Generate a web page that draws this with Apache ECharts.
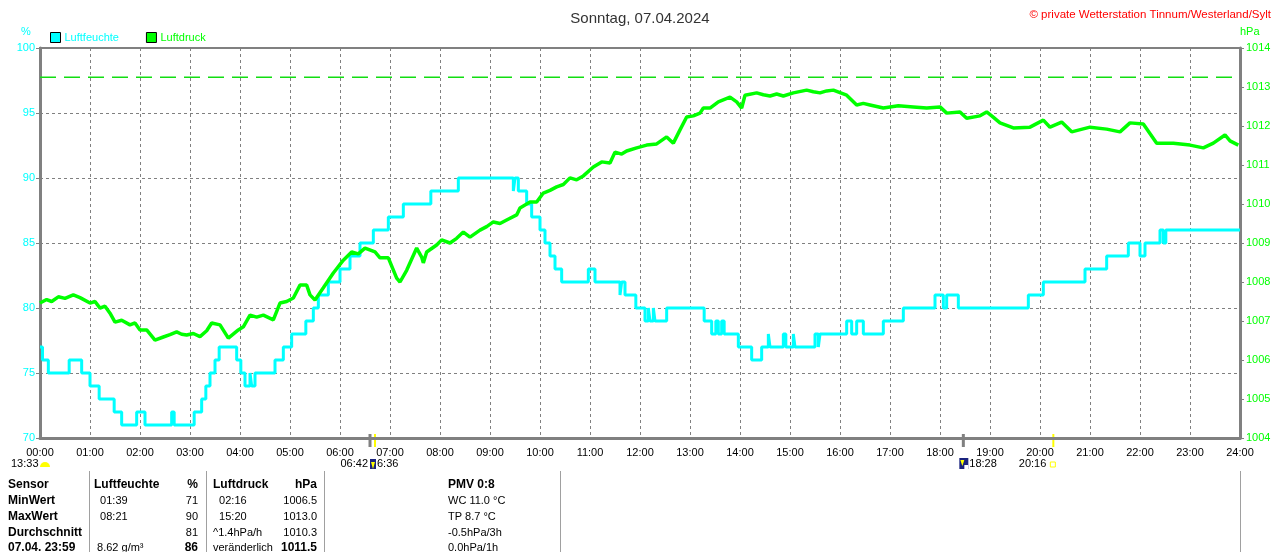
<!DOCTYPE html>
<html>
<head>
<meta charset="utf-8">
<script src="https://cdn.jsdelivr.net/npm/echarts@6/dist/echarts.min.js"></script>
<style>
html, body { margin: 0; padding: 0; background: #fff; }
#container { width: 1280px; height: 552px; }
</style>
</head>
<body>
<div id="container"></div>
<script>
let chart = echarts.init(document.getElementById('container'));

const FONT = '"Liberation Sans", Arial, sans-serif';

// x axis tick labels, one per hour
const xLabels = ['00:00', '01:00', '02:00', '03:00', '04:00', '05:00', '06:00', '07:00', '08:00',
    '09:00', '10:00', '11:00', '12:00', '13:00', '14:00', '15:00', '16:00', '17:00', '18:00',
    '19:00', '20:00', '21:00', '22:00', '23:00', '24:00'];

// Luftfeuchte [minute of day, %] - value holds until next entry
const humidity = [[0, 77], [3, 76], [10, 75], [35, 76], [50, 75], [60, 74], [71, 73], [89, 72], [98, 71],
    [116, 72], [126, 71], [158, 72], [161, 71], [185, 72], [194, 73], [199, 74], [204, 75], [210, 76],
    [215, 77], [236, 76], [241, 75], [246, 74], [252, 75], [254, 74], [258, 75], [282, 76], [292, 77],
    [302, 78], [319, 79], [328, 80], [334, 81], [346, 82], [360, 83], [372, 84], [384, 85], [400, 86],
    [418, 87], [436, 88], [469, 89], [502, 90], [568, 89], [570, 90], [574, 89], [584, 88], [590, 87],
    [600, 86], [606, 85], [612, 84], [618, 83], [626, 82], [658, 83], [666, 82], [696, 81], [698, 82],
    [702, 81], [715, 80], [726, 79], [730, 80], [732, 79], [736, 80], [738, 79], [752, 80], [797, 79],
    [806, 78], [811, 79], [814, 78], [818, 79], [821, 78], [838, 77], [854, 76], [866, 77], [874, 78],
    [876, 77], [892, 78], [895, 77], [904, 78], [906, 77], [930, 78], [934, 77], [936, 78], [968, 79],
    [974, 78], [980, 79], [988, 78], [1012, 79], [1036, 80], [1074, 81], [1084, 80], [1088, 81],
    [1102, 80], [1186, 81], [1204, 82], [1254, 83], [1280, 84], [1306, 85], [1320, 84], [1326, 85],
    [1344, 86], [1348, 85], [1351, 86], [1440, 86]];

// Luftdruck [minute of day, hPa]
const pressure = [[0, 1007.46], [8, 1007.55], [14, 1007.5], [22, 1007.62], [30, 1007.58], [40, 1007.67],
    [48, 1007.6], [60, 1007.46], [66, 1007.5], [72, 1007.33], [78, 1007.38], [84, 1007.2],
    [90, 1006.97], [98, 1007.02], [108, 1006.9], [114, 1006.95], [120, 1006.77], [128, 1006.77], [138, 1006.51], [148, 1006.59],
    [156, 1006.65], [164, 1006.72], [170, 1006.66], [176, 1006.64], [184, 1006.68], [192, 1006.6], [200, 1006.75], [206, 1006.95], [216, 1006.9], [226, 1006.56],
    [238, 1006.77], [244, 1006.85], [252, 1007.15], [260, 1007.1], [268, 1007.15], [280, 1007.03], [288, 1007.46],
    [296, 1007.5], [304, 1007.59], [312, 1007.92], [320, 1007.92], [324, 1007.67], [330, 1007.54], [340, 1007.85],
    [352, 1008.23], [364, 1008.56], [374, 1008.77], [382, 1008.72], [390, 1008.87], [402, 1008.77], [408, 1008.62],
    [418, 1008.62], [428, 1008.1], [432, 1008.0], [440, 1008.3], [452, 1008.87], [458, 1008.64],
    [460, 1008.49], [464, 1008.77], [476, 1008.95], [482, 1009.08], [492, 1009.0], [500, 1009.12], [508, 1009.28],
    [516, 1009.15], [528, 1009.33], [536, 1009.42], [544, 1009.54], [552, 1009.5], [560, 1009.59], [572, 1009.72], [576, 1009.9],
    [588, 1010.05], [596, 1010.05], [604, 1010.28], [612, 1010.35], [620, 1010.44], [628, 1010.5], [636, 1010.67], [644, 1010.62], [652, 1010.72],
    [664, 1010.95], [674, 1011.08], [684, 1011.05], [690, 1011.33], [698, 1011.28], [704, 1011.36], [716, 1011.44],
    [728, 1011.51], [740, 1011.54], [752, 1011.72], [760, 1011.56], [768, 1011.9], [776, 1012.23],
    [784, 1012.26], [792, 1012.33], [796, 1012.46], [804, 1012.46], [814, 1012.62], [828, 1012.74],
    [836, 1012.62], [842, 1012.46], [846, 1012.79], [860, 1012.85], [868, 1012.8], [876, 1012.77], [884, 1012.82], [892, 1012.77],
    [904, 1012.85], [920, 1012.92], [928, 1012.88], [936, 1012.85], [944, 1012.9], [952, 1012.92], [968, 1012.79], [980, 1012.54],
    [988, 1012.58], [996, 1012.54], [1012, 1012.46], [1030, 1012.52], [1048, 1012.49], [1064, 1012.46], [1080, 1012.49], [1088, 1012.33], [1104, 1012.36],
    [1112, 1012.2], [1128, 1012.26], [1136, 1012.36], [1142, 1012.26], [1152, 1012.08], [1168, 1011.95],
    [1188, 1011.97], [1204, 1012.15], [1212, 1011.97], [1226, 1012.1], [1238, 1011.85], [1260, 1011.97],
    [1280, 1011.92], [1296, 1011.85], [1308, 1012.08], [1324, 1012.05], [1340, 1011.56], [1360, 1011.56],
    [1380, 1011.51], [1396, 1011.44], [1408, 1011.56], [1422, 1011.77], [1428, 1011.62], [1438, 1011.51]];

const normalPressure = 1013.25;

// sun / moon times shown under the axis
const sunRise = '06:36';
const sunSet = '18:28';
const moonRise = '06:42';
const moonSet = '20:16';
const moonPrev = '13:33';

// summary table below the chart
const tableRows = [
    ['Sensor', 'Luftfeuchte', '%', 'Luftdruck', 'hPa', 'PMV 0:8'],
    ['MinWert', '  01:39', '71', '  02:16', '1006.5', 'WC 11.0 °C'],
    ['MaxWert', '  08:21', '90', '  15:20', '1013.0', 'TP 8.7 °C'],
    ['Durchschnitt', '', '81', '^1.4hPa/h', '1010.3', '-0.5hPa/3h'],
    ['07.04. 23:59', ' 8.62 g/m³', '86', 'veränderlich', '1011.5', '0.0hPa/1h'],
];

function toMin(t) {
    let p = t.split(':');
    return parseInt(p[0]) * 60 + parseInt(p[1]);
}

var option = {
    animation: false,
    textStyle: { fontFamily: FONT },
    title: [{
        text: 'Sonntag, 07.04.2024',
        left: 'center',
        top: 6,
        textStyle: { fontSize: 15, fontWeight: 'normal', color: '#333', fontFamily: FONT },
    }, {
        text: '© private Wetterstation Tinnum/Westerland/Sylt',
        right: 4,
        top: 4,
        textStyle: { fontSize: 11.5, fontWeight: 'normal', color: '#ff0000', fontFamily: FONT },
    }],
    legend: {
        left: 50,
        top: 32,
        padding: 0,
        itemWidth: 10,
        itemHeight: 10,
        itemGap: 27,
        icon: 'rect',
        itemStyle: { borderColor: '#000', borderWidth: 1 },
        textStyle: { fontSize: 11, fontFamily: FONT, padding: [0, 0, 0, -1] },
        data: [
            { name: 'Luftfeuchte', textStyle: { color: '#00ffff' } },
            { name: 'Luftdruck', textStyle: { color: '#00ff00' } },
        ],
    },
    grid: {
        left: 40,
        right: 40,
        top: 48,
        bottom: 114,
        show: true,
        borderColor: '#808080',
        borderWidth: 2,
    },
    xAxis: {
        type: 'value',
        min: 0,
        max: 1440,
        interval: 60,
        axisLine: { lineStyle: { color: '#808080', width: 3 } },
        axisTick: { show: false },
        axisLabel: {
            color: '#000',
            fontSize: 11,
            margin: 9,
            showMinLabel: true,
            showMaxLabel: true,
            formatter: v => xLabels[Math.round(v / 60)],
        },
        splitLine: { show: true, lineStyle: { color: '#808080', type: [3, 3], width: 1 } },
    },
    yAxis: [{
        type: 'value',
        position: 'left',
        min: 70,
        max: 100,
        interval: 5,
        axisLine: { show: true, lineStyle: { color: '#808080', width: 3 } },
        axisTick: { show: true, length: 4, lineStyle: { color: '#808080' } },
        axisLabel: { color: '#00ffff', fontSize: 11, margin: 5 },
        splitLine: { show: true, lineStyle: { color: '#808080', type: [3, 3], width: 1 } },
    }, {
        type: 'value',
        position: 'right',
        min: 1004,
        max: 1014,
        interval: 1,
        axisLine: { show: true, lineStyle: { color: '#808080', width: 3 } },
        axisTick: { show: true, length: 4, lineStyle: { color: '#808080' } },
        axisLabel: { color: '#00ff00', fontSize: 11, margin: 6, formatter: v => String(v) },
        splitLine: { show: false },
    }],
    series: [{
        name: 'Luftfeuchte',
        type: 'line',
        step: 'end',
        yAxisIndex: 0,
        showSymbol: false,
        data: humidity,
        itemStyle: { color: '#00ffff' },
        lineStyle: { color: '#00ffff', width: 3 },
    }, {
        name: 'Luftdruck',
        type: 'line',
        yAxisIndex: 1,
        showSymbol: false,
        data: pressure,
        itemStyle: { color: '#00ff00' },
        lineStyle: { color: '#00ff00', width: 3.5 },
    }, {
        // Normaldruck reference line
        name: 'Normaldruck',
        type: 'line',
        yAxisIndex: 1,
        showSymbol: false,
        silent: true,
        data: [[0, normalPressure], [1440, normalPressure]],
        itemStyle: { color: '#11dd11' },
        lineStyle: { color: '#11dd11', type: [16, 8], width: 1.5 },
    }],
};

chart.setOption(option);

// extra marks under the axis and the table
let px = t => chart.convertToPixel({ xAxisIndex: 0 }, toMin(t));
let graphic = [];

function txt(x, y, text, opts) {
    opts = opts || {};
    graphic.push({
        type: 'text',
        x: x,
        y: y,
        style: {
            text: text,
            fill: opts.color || '#000',
            font: (opts.bold ? 'bold 12px ' : '11px ') + FONT,
            textAlign: opts.align || 'left',
            textVerticalAlign: 'middle',
        },
    });
}

txt(26, 32, '%', { color: '#00ffff', align: 'center' });
txt(1240, 32, 'hPa', { color: '#00ff00' });

// rise / set ticks on the time axis
[[sunRise, '#808080', 3], [moonRise, '#ffff00', 2], [sunSet, '#808080', 3], [moonSet, '#ffff00', 2]].forEach(m => {
    let x = px(m[0]);
    graphic.push({ type: 'rect', shape: { x: x - m[2] / 2, y: 434, width: m[2], height: 13 }, style: { fill: m[1] } });
});

// labels under the axis
txt(11, 464, moonPrev);
graphic.push({ type: 'sector', shape: { cx: 45, cy: 467, r: 5, startAngle: Math.PI, endAngle: Math.PI * 2 }, style: { fill: '#ffff00' } });

let xr = px(sunRise);
txt(xr - 2, 464, moonRise, { align: 'right' });
graphic.push({ type: 'rect', shape: { x: xr, y: 459, width: 6, height: 10 }, style: { fill: '#1a237e' } });
graphic.push({ type: 'polygon', shape: { points: [[xr + 1, 462], [xr + 5, 462], [xr + 3, 469]] }, style: { fill: '#ffff00' } });
txt(xr + 7, 464, sunRise.slice(1));

let xs = px(sunSet);
graphic.push({ type: 'rect', shape: { x: xs - 4, y: 458, width: 9, height: 11 }, style: { fill: '#1a237e' } });
graphic.push({ type: 'polygon', shape: { points: [[xs - 3, 460], [xs + 1, 460], [xs - 1, 466]] }, style: { fill: '#ffff00' } });
graphic.push({ type: 'rect', shape: { x: xs + 1, y: 465, width: 4, height: 4 }, style: { fill: '#ffffff' } });
txt(xs + 6, 464, sunSet);

let xm = px(moonSet);
txt(xm - 7, 464, moonSet, { align: 'right' });
graphic.push({ type: 'rect', shape: { x: xm - 3, y: 462, width: 5, height: 5 }, style: { fill: 'none', stroke: '#ffff00', lineWidth: 1 } });

// table separators
[89, 206, 324, 560, 1240].forEach(x => {
    graphic.push({ type: 'line', shape: { x1: x + 0.5, y1: 471, x2: x + 0.5, y2: 552 }, style: { stroke: '#a0a0a0', lineWidth: 1 } });
});

// table text
let colX = [8, 94, 198, 213, 317, 448];
let colAlign = ['left', 'left', 'right', 'left', 'right', 'left'];
let rowY = [485, 501, 517, 533, 548];
tableRows.forEach((row, r) => {
    row.forEach((cell, c) => {
        if (!cell) return;
        let bold = r == 0 || c == 0 || (r == 4 && (c == 2 || c == 4));
        txt(colX[c], rowY[r], cell, { bold: bold, align: colAlign[c] });
    });
});

chart.setOption({ graphic: graphic });
</script>
</body>
</html>
